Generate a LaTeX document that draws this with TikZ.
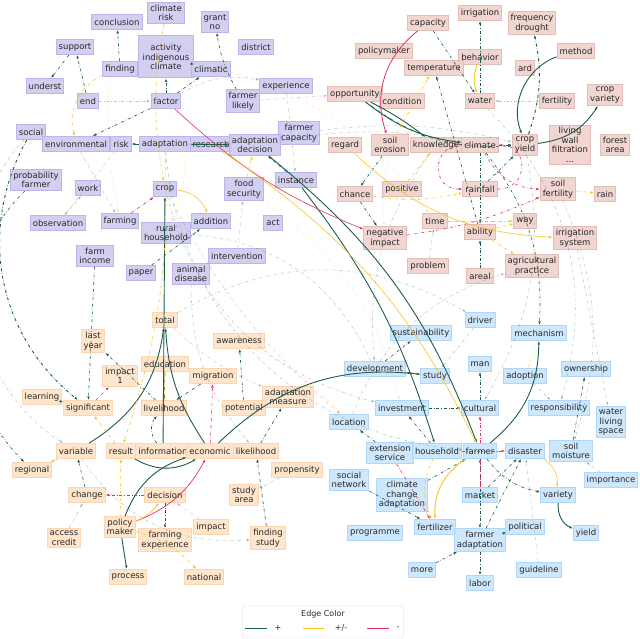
\documentclass[tikz,border=0pt]{standalone}
\usepackage{fontspec}
\setmainfont{DejaVu Sans}
\usetikzlibrary{arrows.meta}
\definecolor{pluscol}{RGB}{28,92,76}
\definecolor{mixcol}{RGB}{250,196,30}
\definecolor{minuscol}{RGB}{228,48,104}
\definecolor{purplefill}{RGB}{206,202,240}
\definecolor{purpleline}{RGB}{188,180,234}
\definecolor{redfill}{RGB}{238,208,204}
\definecolor{redline}{RGB}{226,190,184}
\definecolor{orangefill}{RGB}{254,226,198}
\definecolor{orangeline}{RGB}{252,214,178}
\definecolor{bluefill}{RGB}{200,228,252}
\definecolor{blueline}{RGB}{178,214,248}
\definecolor{labeltext}{RGB}{40,40,40}

\begin{document}
\begin{tikzpicture}[
        x=1pt, y=-1pt,
        box/.style={rectangle, draw, line width=1pt, inner xsep=2.5pt, inner ysep=2.5pt, minimum height=15pt, align=center, text=labeltext, fill opacity=0.9, text opacity=1, font=\fontsize{8.5}{9.5}\selectfont},
        pbox/.style={box, fill=purplefill, draw=purpleline},
        rbox/.style={box, fill=redfill, draw=redline},
        obox/.style={box, fill=orangefill, draw=orangeline},
        bbox/.style={box, fill=bluefill, draw=blueline},
        arrow/.style={-{Latex[length=3.5pt, width=2.6pt]}, dash dot, line width=0.6pt},
        posedge/.style={arrow, draw=pluscol},
        mixedge/.style={arrow, draw=mixcol},
        negedge/.style={arrow, draw=minuscol},
        strong/.style={solid, line width=0.9pt},
        faint/.style={opacity=0.3},
        legendbox/.style={rectangle, draw=gray!30, rounded corners=2pt, fill=white, minimum width=161pt, minimum height=32pt},
        legendtext/.style={text=labeltext, font=\fontsize{8}{9}\selectfont}
    ]
        \useasboundingbox (0,0) rectangle (640,639);

        \node[pbox] (climaterisk) at (166,13) {climate\\risk};
        \node[pbox] (conclusion) at (117,22) {conclusion};
        \node[pbox] (grantno) at (215,22) {grant\\no};
        \node[pbox] (support) at (75,47) {support};
        \node[pbox, minimum width=55pt, minimum height=42pt] (activity) at (166,57) {activity\\indigenous\\climate};
        \node[pbox] (district) at (256,47) {district};
        \node[pbox] (finding) at (120,69) {finding};
        \node[pbox] (climatic) at (211,69) {climatic};
        \node[pbox] (underst) at (45,86) {underst};
        \node[pbox] (experience) at (286,86) {experience};
        \node[pbox] (endn) at (88,101) {end};
        \node[pbox] (factor) at (166,101) {factor};
        \node[pbox] (farmerlikely) at (243,101) {farmer\\likely};
        \node[pbox] (social) at (31,132) {social};
        \node[pbox] (farmercap) at (299,133) {farmer\\capacity};
        \node[pbox] (environmental) at (76,144) {environmental};
        \node[pbox] (risk) at (121,144) {risk};
        \node[pbox] (adaptation) at (165,144) {adaptation};
        \node[pbox] (research) at (211,144) {researcb};
        \node[pbox] (adaptdec) at (255,145) {adaptation\\decision};
        \node[pbox] (probfarmer) at (36,180) {probability\\farmer};
        \node[pbox] (work) at (88,188) {work};
        \node[pbox] (crop) at (165,189) {crop};
        \node[pbox] (foodsec) at (244,189) {food\\security};
        \node[pbox] (instance) at (296,180) {instance};
        \node[pbox] (observation) at (58,223) {observation};
        \node[pbox] (farming) at (120,221) {farming};
        \node[pbox] (ruralhh) at (166,233) {rural\\household};
        \node[pbox] (addition) at (211,221) {addition};
        \node[pbox] (act) at (273,223) {act};
        \node[pbox] (farmincome) at (95,256) {farm\\income};
        \node[pbox] (intervention) at (237,256) {intervention};
        \node[pbox] (paper) at (141,273) {paper};
        \node[pbox] (animaldis) at (191,274) {animal\\disease};

        \node[rbox] (irrigation) at (480,13) {irrigation};
        \node[rbox] (capacity) at (428,23) {capacity};
        \node[rbox] (freqdrought) at (532,23) {frequency\\drought};
        \node[rbox] (policymaker) at (384,51) {policymaker};
        \node[rbox] (behavior) at (480,57) {behavior};
        \node[rbox] (method) at (576,51) {method};
        \node[rbox] (temperature) at (434,68) {temperature};
        \node[rbox] (ard) at (525,68) {ard};
        \node[rbox] (cropvariety) at (605,95) {crop\\variety};
        \node[rbox] (opportunity) at (355,94) {opportunity};
        \node[rbox] (condition) at (402,101) {condition};
        \node[rbox] (water) at (480,101) {water};
        \node[rbox] (fertility) at (557,101) {fertility};
        \node[rbox] (regard) at (345,145) {regard};
        \node[rbox] (soilerosion) at (390,145) {soil\\erosion};
        \node[rbox] (knowledge) at (436,145) {knowledge};
        \node[rbox] (climate) at (480,145) {climate};
        \node[rbox] (cropyield) at (525,145) {crop\\yield};
        \node[rbox] (livingwall) at (570,145) {living\\wall\\filtration\\...};
        \node[rbox] (forestarea) at (615,145) {forest\\area};
        \node[rbox] (chance) at (355,194) {chance};
        \node[rbox] (positive) at (402,189) {positive};
        \node[rbox] (rainfall) at (480,189) {rainfall};
        \node[rbox] (soilfert) at (558,189) {soil\\fertility};
        \node[rbox] (rain) at (605,194) {rain};
        \node[rbox] (timen) at (435,221) {time};
        \node[rbox] (ability) at (480,232) {ability};
        \node[rbox] (way) at (525,221) {way};
        \node[rbox] (negimpact) at (385,238) {negative\\impact};
        \node[rbox] (irrsystem) at (575,238) {irrigation\\system};
        \node[rbox] (problem) at (428,266) {problem};
        \node[rbox] (areal) at (480,276) {areal};
        \node[rbox] (agripractice) at (532,266) {agricultural\\practice};

        \node[obox] (total) at (165,320) {total};
        \node[obox] (lastyear) at (93,341) {last\\year};
        \node[obox] (awareness) at (239,341) {awareness};
        \node[obox] (education) at (165,364) {education};
        \node[obox] (impactone) at (120,376) {impact\\1};
        \node[obox] (migration) at (213,376) {migration};
        \node[obox] (learning) at (42,397) {learning};
        \node[obox] (adaptmeasure) at (288,397) {adaptation\\measure};
        \node[obox] (significant) at (88,408) {significant};
        \node[obox] (livelihood) at (164,408) {livelihood};
        \node[obox] (potential) at (244,408) {potential};
        \node[obox] (variable) at (76,451) {variable};
        \node[obox] (result) at (121,451) {result};
        \node[obox] (information) at (163,451) {information};
        \node[obox] (economic) at (210,451) {economic};
        \node[obox] (likelihood) at (256,451) {likelihood};
        \node[obox] (regional) at (32,470) {regional};
        \node[obox] (propensity) at (297,470) {propensity};
        \node[obox] (change) at (87,495) {change};
        \node[obox] (decision) at (165,495) {decision};
        \node[obox] (studyarea) at (244,495) {study\\area};
        \node[obox] (accesscredit) at (64,538) {access\\credit};
        \node[obox] (policymkr) at (120,527) {policy\\maker};
        \node[obox] (farmingexp) at (165,540) {farming\\experience};
        \node[obox] (impact) at (211,527) {impact};
        \node[obox] (findingstudy) at (268,538) {finding\\study};
        \node[obox] (process) at (128,577) {process};
        \node[obox] (national) at (204,577) {national};

        \node[bbox] (driver) at (480,320) {driver};
        \node[bbox] (sustainability) at (421,333) {sustainability};
        \node[bbox] (mechanism) at (539,333) {mechanism};
        \node[bbox] (man) at (480,364) {man};
        \node[bbox] (development) at (375,369) {development};
        \node[bbox] (study) at (435,376) {study};
        \node[bbox] (adoption) at (525,376) {adoption};
        \node[bbox] (ownership) at (586,369) {ownership};
        \node[bbox] (investment) at (402,408) {investment};
        \node[bbox] (cultural) at (480,408) {cultural};
        \node[bbox] (responsibility) at (559,408) {responsibility};
        \node[bbox] (waterliving) at (611,422) {water\\living\\space};
        \node[bbox] (location) at (349,422) {location};
        \node[bbox] (extservice) at (390,453) {extension\\service};
        \node[bbox] (household) at (437,451) {household};
        \node[bbox] (farmer) at (480,451) {farmer};
        \node[bbox] (disaster) at (525,451) {disaster};
        \node[bbox] (soilmoisture) at (571,451) {soil\\moisture};
        \node[bbox] (socialnet) at (349,480) {social\\network};
        \node[bbox] (importance) at (611,480) {importance};
        \node[bbox] (ccadapt) at (402,495) {climate\\change\\adaptation};
        \node[bbox] (market) at (480,495) {market};
        \node[bbox] (variety) at (558,495) {variety};
        \node[bbox] (programme) at (375,533) {programme};
        \node[bbox] (fertilizer) at (435,527) {fertilizer};
        \node[bbox] (farmeradapt) at (480,540) {farmer\\adaptation};
        \node[bbox] (political) at (525,527) {political};
        \node[bbox] (yield) at (586,533) {yield};
        \node[bbox] (more) at (422,570) {more};
        \node[bbox] (guideline) at (539,570) {guideline};
        \node[bbox] (labor) at (480,583) {labor};

        \draw[posedge, strong] (method) to[bend right=45] (cropyield);
        \draw[posedge, line width=0.9pt] (cropyield) to[bend right=15] (freqdrought);
        \draw[posedge, strong] (cropyield) to[bend right=25] (cropvariety);
        \draw[posedge, strong] (opportunity) to[bend left=5] (knowledge);
        \draw[posedge, strong] (opportunity) to[bend right=15] (climate);
        \draw[posedge] (opportunity) to[bend right=20] (cropyield);
        \draw[posedge] (climate) -- (cropyield);
        \draw[posedge] (rainfall) -- (cropyield);
        \draw[posedge] (ability) -- (temperature);
        \draw[posedge] (water) -- (irrigation);
        \draw[posedge] (capacity) -- (water);
        \draw[posedge] (climate) -- (ability);
        \draw[posedge] (areal) -- (ability);
        \draw[posedge] (soilerosion) -- (chance);
        \draw[posedge] (chance) -- (negimpact);
        \draw[posedge, faint] (fertility) -- (water);
        \draw[posedge, faint] (problem) -- (timen);
        \draw[posedge, strong] (adaptation) -- (risk);
        \draw[posedge, strong] (adaptation) -- (adaptdec);
        \draw[posedge] (instance) -- (adaptdec);
        \draw[posedge] (factor) -- (activity);
        \draw[posedge] (climatic) -- (activity);
        \draw[posedge] (farmerlikely) to[bend left=10] (grantno);
        \draw[posedge] (support) -- (underst);
        \draw[posedge] (endn) -- (support);
        \draw[posedge] (finding) -- (conclusion);
        \draw[posedge] (factor) -- (environmental);
        \draw[posedge] (factor) -- (climatic);
        \draw[posedge] (paper) -- (addition);
        \draw[posedge] (farmincome) -- (significant);
        \draw[posedge, strong] (information) -- (crop);
        \draw[posedge, strong] (adaptdec) to[bend left=15] (farmer);
        \draw[posedge, strong] (instance) to[bend left=10] (household);
        \draw[posedge, line width=0.9pt] (social) to[bend right=40] (significant);
        \draw[posedge] (probfarmer) to[bend right=45] (regional);
        \draw[posedge, strong] (variable) to[bend right=25] (total);
        \draw[posedge, strong] (economic) to[bend left=15] (total);
        \draw[posedge, strong] (result) to[bend right=30] (economic);
        \draw[posedge, strong] (policymkr) -- (process);
        \draw[posedge, strong] (policymkr) to[bend left=25] (economic);
        \draw[posedge, strong] (economic) to[bend left=25] (study);
        \draw[posedge] (education) -- (livelihood);
        \draw[posedge] (migration) -- (livelihood);
        \draw[posedge] (livelihood) -- (lastyear);
        \draw[posedge] (learning) -- (significant);
        \draw[posedge] (likelihood) -- (adaptmeasure);
        \draw[posedge] (potential) -- (awareness);
        \draw[posedge] (findingstudy) -- (likelihood);
        \draw[posedge] (change) -- (variable);
        \draw[posedge] (decision) -- (farmingexp);
        \draw[posedge] (information) to[bend left=40] (livelihood);
        \draw[posedge, strong] (farmer) to[bend right=25] (mechanism);
        \draw[posedge] (study) -- (development);
        \draw[posedge] (development) -- (sustainability);
        \draw[posedge] (cultural) -- (man);
        \draw[posedge] (investment) -- (cultural);
        \draw[posedge] (household) -- (investment);
        \draw[posedge] (soilmoisture) -- (ownership);
        \draw[posedge] (market) -- (disaster);
        \draw[posedge] (farmeradapt) -- (disaster);
        \draw[posedge] (farmer) to[bend right=20] (variety);
        \draw[posedge, strong] (variety) to[bend right=35] (yield);
        \draw[posedge] (farmeradapt) -- (labor);
        \draw[posedge] (farmer) -- (farmeradapt);
        \draw[posedge] (more) -- (farmeradapt);
        \draw[posedge] (political) -- (farmeradapt);
        \draw[posedge] (extservice) -- (location);
        \draw[posedge] (ccadapt) -- (farmer);
        \draw[posedge] (socialnet) -- (fertilizer);
        \draw[posedge] (climate) to[bend left=20] (mechanism);
        \draw[posedge, faint] (adaptation) to[bend right=40] (farmer);
        \draw[posedge, faint] (crop) to[bend right=30] (investment);
        \draw[posedge, faint] (farmercap) to[bend left=10] (cropyield);
        \draw[posedge, faint] (experience) -- (instance);
        \draw[posedge, faint] (social) to[bend right=50] (variable);
        \draw[posedge, faint] (adaptdec) to[bend left=10] (climate);
        \draw[posedge, faint] (knowledge) to[bend right=20] (development);
        \draw[posedge, faint] (cropyield) to[bend left=20] (cultural);
        \draw[posedge, faint] (water) to[bend left=30] (responsibility);
        \draw[posedge, faint] (soilfert) to[bend left=20] (soilmoisture);
        \draw[posedge, faint] (irrsystem) -- (waterliving);
        \draw[posedge, faint] (animaldis) to[bend right=20] (likelihood);
        \draw[posedge, faint] (intervention) -- (foodsec);
        \draw[posedge, faint] (observation) -- (work);
        \draw[posedge, faint] (environmental) -- (farming);
        \draw[posedge, faint] (factor) to[bend left=20] (experience);
        \draw[posedge, faint] (endn) -- (factor);
        \draw[posedge, faint] (adoption) -- (responsibility);
        \draw[posedge, faint] (driver) -- (study);
        \draw[posedge, faint] (guideline) -- (disaster);
        \draw[posedge, faint] (importance) -- (soilmoisture);
        \draw[posedge, faint] (propensity) -- (studyarea);
        \draw[posedge, faint] (accesscredit) -- (change);
        \draw[posedge, faint] (development) to[bend right=30] (ruralhh);
        \draw[posedge, faint] (location) to[bend left=25] (agripractice);
        \draw[posedge, faint] (total) to[bend left=30] (driver);
        \draw[posedge, faint] (variable) to[bend right=30] (findingstudy);

        \draw[negedge, strong, line width=0.8pt] (capacity) to[bend right=35] (soilerosion);
        \draw[negedge] (climate) to[bend right=90, looseness=1.8] (rainfall);
        \draw[negedge] (rainfall) to[bend right=90, looseness=1.8] (climate);
        \draw[negedge] (climate) to[bend right=30] (soilfert);
        \draw[negedge] (negimpact) to[bend right=8] (soilfert);
        \draw[negedge, solid] (factor) to[bend right=10] (negimpact);
        \draw[negedge, strong, line width=0.7pt] (policymkr) to[bend right=20] (economic);
        \draw[negedge] (decision) -- (change);
        \draw[negedge] (economic) -- (migration);
        \draw[negedge] (significant) -- (impactone);
        \draw[negedge] (farming) -- (crop);
        \draw[negedge] (market) -- (farmer);
        \draw[negedge] (farmer) -- (cultural);
        \draw[negedge] (extservice) -- (fertilizer);
        \draw[negedge] (household) -- (disaster);
        \draw[negedge, faint] (farmerlikely) -- (opportunity);
        \draw[negedge, faint] (crop) to[bend right=10] (location);
        \draw[negedge, faint] (total) to[bend right=10] (adaptmeasure);
        \draw[negedge, faint] (impact) -- (decision);
        \draw[negedge, faint] (risk) -- (observation);

        \draw[mixedge] (soilfert) -- (rain);
        \draw[mixedge, strong] (behavior) to[bend right=20] (water);
        \draw[mixedge, solid] (regard) to[bend right=20] (irrsystem);
        \draw[mixedge] (finding) to[bend right=40] (environmental);
        \draw[mixedge] (climaterisk) to[bend right=10] (crop);
        \draw[mixedge, strong] (farmer) to[bend right=30] (fertilizer);
        \draw[mixedge] (household) to[bend right=25] (fertilizer);
        \draw[mixedge, solid] (disaster) to[bend left=30] (variety);
        \draw[mixedge] (policymkr) to[bend left=15] (national);
        \draw[mixedge] (policymkr) -- (result);
        \draw[mixedge, solid] (policymkr) to[bend right=15] (decision);
        \draw[mixedge] (adaptation) to[bend left=10] (result);
        \draw[mixedge, solid] (research) to[bend left=15] (farmer);
        \draw[mixedge, solid] (crop) to[bend left=30] (addition);
        \draw[mixedge] (soilerosion) -- (temperature);
        \draw[mixedge] (ability) -- (way);
        \draw[mixedge] (timen) -- (way);
        \draw[mixedge] (chance) to[bend right=10] (rainfall);
        \draw[mixedge] (ability) -- (agripractice);
        \draw[mixedge] (livelihood) -- (education);
        \draw[mixedge] (variable) -- (regional);
        \draw[mixedge] (result) -- (significant);
        \draw[mixedge] (positive) -- (knowledge);
        \draw[mixedge] (foodsec) -- (adaptdec);
        \draw[mixedge, faint] (foodsec) to[bend left=20] (investment);
        \draw[mixedge, faint] (factor) to[bend left=25] (ruralhh);
        \draw[mixedge, faint] (conclusion) to[bend right=10] (farming);
        \draw[mixedge, faint] (activity) to[bend left=20] (timen);
        \draw[mixedge, faint] (temperature) to[bend right=20] (negimpact);
        \draw[mixedge, faint] (awareness) to[bend left=10] (location);
        \draw[mixedge, faint] (way) to[bend left=20] (adoption);

        \node[legendbox] (legend) at (323,622) {};
        \node[legendtext] (legtitle) at (323,614) {Edge Color};
        \coordinate (plusa) at (245,628);
        \coordinate (plusb) at (267,628);
        \coordinate (mixa) at (303,628);
        \coordinate (mixb) at (324,628);
        \coordinate (minusa) at (367,628);
        \coordinate (minusb) at (389,628);
        \node[legendtext] (pluslab) at (278,628) {+};
        \node[legendtext] (mixlab) at (341,628) {+/-};
        \node[legendtext] (minuslab) at (398,628) {-};
        \draw[pluscol, line width=1pt] (plusa) -- (plusb);
        \draw[mixcol, line width=1pt] (mixa) -- (mixb);
        \draw[minuscol, line width=1pt] (minusa) -- (minusb);
    \end{tikzpicture}
\end{document}
